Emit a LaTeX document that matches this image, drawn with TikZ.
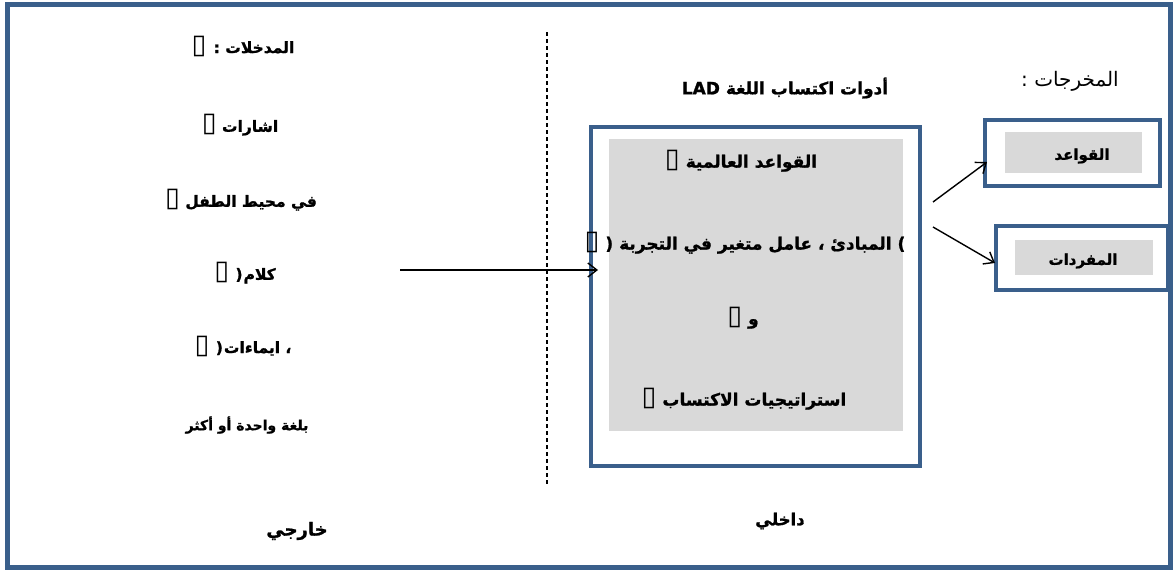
\documentclass[tikz,border=0pt]{standalone}
\usepackage{fontspec}
\usetikzlibrary{arrows.meta}
\TeXXeTstate=1
\newfontfamily\arfont[Script=Arabic,BoldFeatures={FakeBold=1.2}]{DejaVu Sans}
\newfontfamily\symfont{DejaVu Sans}
\newcommand{\bx}{{\symfont\mdseries\fontsize{27}{27}\selectfont\char"25AF}}
\definecolor{frameblue}{RGB}{58,95,139}
\definecolor{boxgray}{RGB}{217,217,217}
\tikzset{
  artext/.style={font=\arfont\bfseries\fontsize{15.5}{17}\selectfont, inner sep=0pt, text=black},
  artextL/.style={artext, font=\arfont\bfseries\fontsize{17}{19}\selectfont},
  artextS/.style={artext, font=\arfont\bfseries\fontsize{15}{17}\selectfont},
  bluebox/.style={draw=frameblue, line width=4pt, fill=white},
  arr/.style={-{Straight Barb[length=9pt,width=14pt,line width=1.4pt]}, line width=1.4pt, black},
}
\begin{document}
\begin{tikzpicture}[x=1pt,y=-1pt]
\useasboundingbox (0,0) rectangle (1173,570);
% outer frame
\draw[draw=frameblue, line width=5pt] (7.5,4) rectangle (1170,567.5);
% dashed separator
\draw[dash pattern=on 4pt off 3pt, line width=1.1pt] (547,32) -- (547,485);
% left column
\node[artext] (in1) at (243,46) {\beginR المدخلات : \bx\endR};
\node[artext] (in2) at (240,125) {\beginR اشارات \bx\endR};
\node[artext] (in3) at (241,200) {\beginR في محيط الطفل \bx\endR};
\node[artext] (in4) at (245,273) {\beginR كلام\kern1pt(\kern1pt{} \bx\endR};
\node[artext] (in5) at (243,346) {\beginR ، ايماءات\kern1pt(\kern1pt{} \bx\endR};
\node[artext, font=\arfont\bfseries\fontsize{14}{16}\selectfont] (in6) at (247,425) {\beginR بلغة واحدة أو أكثر\endR};
\node[artext, font=\arfont\bfseries\fontsize{18}{20}\selectfont] (ext) at (297,531) {\beginR خارجي\endR};
% big box
\node[bluebox, minimum width=329pt, minimum height=339pt, inner sep=0pt] (big) at (755.5,296.5) {};
\fill[boxgray] (609,139) rectangle (903,431);
\node[artextL] (t1) at (741,161) {\beginR القواعد العالمية \bx\endR};
\node[artextL] (t2) at (745,243) {\beginR) المبادئ ، عامل متغير في التجربة ( \bx\endR};
\node[artextL] (t3) at (743,318) {\beginR و \bx\endR};
\node[artextL] (t4) at (744,399) {\beginR استراتيجيات الاكتساب \bx\endR};
\node[artextL] (lad) at (785,88) {\beginR أدوات اكتساب اللغة \beginL LAD\endL\endR};
\node[artext, font=\arfont\bfseries\fontsize{16.5}{18}\selectfont] (int) at (780,521) {\beginR داخلي\endR};
% outputs
\node[artext, font=\arfont\fontsize{20}{22}\selectfont] (outt) at (1070,81) {\beginR المخرجات :\endR};
\node[bluebox, minimum width=175pt, minimum height=66pt, inner sep=0pt] (o1) at (1072.5,153) {};
\fill[boxgray] (1005,132) rectangle (1142,173);
\node[artextS] (o1t) at (1082,156) {\beginR القواعد\endR};
\node[bluebox, minimum width=172pt, minimum height=64pt, inner sep=0pt] (o2) at (1082,258) {};
\fill[boxgray] (1015,240) rectangle (1153,275);
\node[artextS] (o2t) at (1083,261) {\beginR المفردات\endR};
% arrows
\coordinate (a0) at (400,270);
\coordinate (a1) at (598,270);
\draw[arr] (a0) -- (a1);
\coordinate (b0) at (933,202);
\coordinate (b1) at (987,162);
\draw[arr] (b0) -- (b1);
\coordinate (c0) at (933,227);
\coordinate (c1) at (995,263);
\draw[arr] (c0) -- (c1);
\end{tikzpicture}
\end{document}
